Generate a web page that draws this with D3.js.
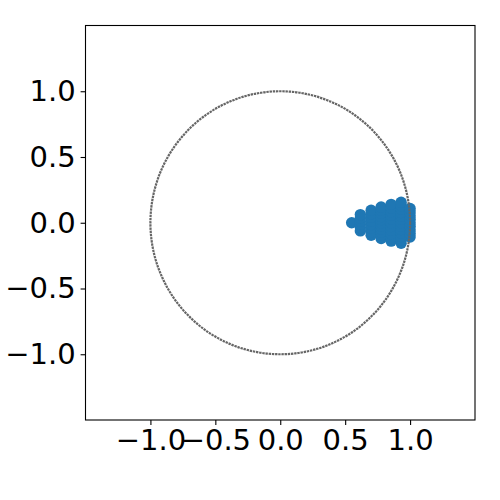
<!DOCTYPE html>
<html>
<head>
<meta charset="utf-8">
<script src="https://cdn.jsdelivr.net/npm/d3@7"></script>
<style>
  body { margin: 0; background: #fff; }
</style>
</head>
<body>
<div id="chart"></div>
<script>
// ticks shown on both axes
const xTicks = [-1.0, -0.5, 0.0, 0.5, 1.0];
const yTicks = [-1.0, -0.5, 0.0, 0.5, 1.0];

// unit circle (centre + radius, in data units)
const circleCenter = [0, 0];
const circleRadius = 1;

// blue cluster, one column of points per x value
const columnX = [0.55, 0.617, 0.70, 0.777, 0.854, 0.931, 1.0];
const columnY = [
  [0],
  [-0.062, -0.037, -0.012, 0.012, 0.037, 0.062],
  [-0.095, -0.068, -0.041, -0.014, 0.014, 0.041, 0.068, 0.095],
  [-0.12, -0.096, -0.072, -0.048, -0.024, 0, 0.024, 0.048, 0.072, 0.096, 0.12],
  [-0.14, -0.112, -0.084, -0.056, -0.028, 0, 0.028, 0.056, 0.084, 0.112, 0.14],
  [-0.156, -0.13, -0.104, -0.078, -0.052, -0.026, 0, 0.026, 0.052, 0.078, 0.104, 0.13, 0.156],
  [-0.108, -0.081, -0.054, -0.027, 0, 0.027, 0.054, 0.081, 0.108]
];

const width = 500;
const height = 500;
const margin = { top: 25.5, right: 25, bottom: 80, left: 85.5 };

const svg = d3.select('#chart').append('svg')
  .attr('width', width)
  .attr('height', height);

const xScale = d3.scaleLinear()
  .domain([-1.5, 1.5])
  .range([margin.left, width - margin.right]);

const yScale = d3.scaleLinear()
  .domain([-1.5, 1.5])
  .range([height - margin.bottom, margin.top]);

// flatten columns into points
const points = [];
columnX.forEach((x, i) => {
  columnY[i].forEach(y => points.push({ x, y }));
});

// scatter
svg.append('g')
  .selectAll('circle')
  .data(points)
  .enter()
  .append('circle')
  .attr('cx', d => xScale(d.x))
  .attr('cy', d => yScale(d.y))
  .attr('r', 5.7)
  .attr('fill', '#1f77b4');

// dotted unit circle, drawn on top
svg.append('ellipse')
  .attr('cx', xScale(circleCenter[0]))
  .attr('cy', yScale(circleCenter[1]))
  .attr('rx', xScale(circleRadius) - xScale(0))
  .attr('ry', yScale(0) - yScale(circleRadius))
  .attr('fill', 'none')
  .attr('stroke', '#666')
  .attr('stroke-width', 2.2)
  .attr('stroke-dasharray', '2.4 0.8');

const fmt = d3.format('.1f');

// x-axis
const xAxis = svg.append('g')
  .attr('transform', `translate(0, ${height - margin.bottom})`)
  .call(d3.axisBottom(xScale).tickValues(xTicks).tickFormat(fmt).tickSize(4.9).tickPadding(4.5));

// y-axis
const yAxis = svg.append('g')
  .attr('transform', `translate(${margin.left}, 0)`)
  .call(d3.axisLeft(yScale).tickValues(yTicks).tickFormat(fmt).tickSize(4.9).tickPadding(4.9));

[xAxis, yAxis].forEach(ax => {
  ax.select('.domain').remove();
  ax.selectAll('line').attr('stroke', '#000').attr('stroke-width', 1.1);
  ax.selectAll('text')
    .attr('fill', '#000')
    .style('font-family', '"DejaVu Sans", sans-serif')
    .style('font-size', '29px');
});

// frame
svg.append('rect')
  .attr('x', xScale(-1.5))
  .attr('y', yScale(1.5))
  .attr('width', xScale(1.5) - xScale(-1.5))
  .attr('height', yScale(-1.5) - yScale(1.5))
  .attr('fill', 'none')
  .attr('stroke', '#000')
  .attr('stroke-width', 1.1);
</script>
</body>
</html>
